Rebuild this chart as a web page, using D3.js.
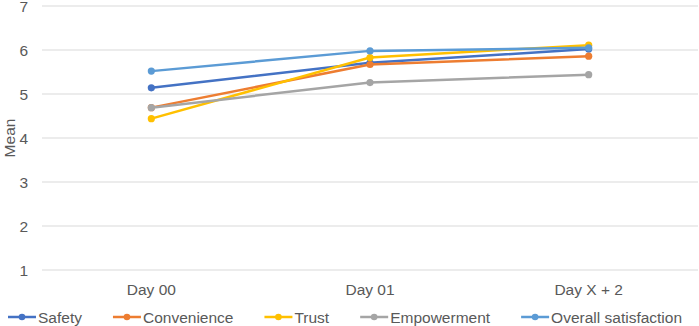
<!DOCTYPE html>
<html>
<head>
<meta charset="utf-8">
<script src="https://cdn.jsdelivr.net/npm/d3@7"></script>
<style>
  body { margin: 0; background: #fff; }
  text { font-family: "Liberation Sans", Arial, sans-serif; fill: #595959; }
</style>
</head>
<body>
<svg id="chart" width="699" height="326"></svg>
<script>
const days = ["Day 00", "Day 01", "Day X + 2"];
const yTicks = [1, 2, 3, 4, 5, 6, 7];

const safety = [5.14, 5.71, 6.02];
const convenience = [4.69, 5.67, 5.86];
const trust = [4.44, 5.83, 6.11];
const empowerment = [4.69, 5.26, 5.44];
const overall = [5.52, 5.98, 6.05];

const seriesNames = ["Safety", "Convenience", "Trust", "Empowerment", "Overall satisfaction"];
const seriesValues = [safety, convenience, trust, empowerment, overall];
const seriesColors = ["#4472C4", "#ED7D31", "#FFC000", "#A5A5A5", "#5B9BD5"];

const series = seriesNames.map((name, i) => ({
  name,
  color: seriesColors[i],
  values: seriesValues[i]
}));

const svg = d3.select("#chart");
const fontSize = 15.5;

const x = d3.scaleBand().domain(days).range([42, 698]);
const y = d3.scaleLinear().domain([1, 7]).range([270, 6]);

// gridlines
svg.append("g")
  .selectAll("line")
  .data(yTicks)
  .join("line")
  .attr("x1", x.range()[0])
  .attr("x2", x.range()[1])
  .attr("y1", d => y(d))
  .attr("y2", d => y(d))
  .attr("stroke", "#D9D9D9")
  .attr("stroke-width", 1);

// y tick labels
svg.append("g")
  .selectAll("text")
  .data(yTicks)
  .join("text")
  .attr("x", 28)
  .attr("y", d => y(d) + 5.5)
  .attr("text-anchor", "end")
  .style("font-size", fontSize + "px")
  .text(d => d);

// y axis title
svg.append("text")
  .attr("transform", `translate(15,${(y(1) + y(7)) / 2}) rotate(-90)`)
  .attr("text-anchor", "middle")
  .style("font-size", fontSize + "px")
  .text("Mean");

// x tick labels
svg.append("g")
  .selectAll("text")
  .data(days)
  .join("text")
  .attr("x", d => x(d) + x.bandwidth() / 2)
  .attr("y", 294.5)
  .attr("text-anchor", "middle")
  .style("font-size", fontSize + "px")
  .text(d => d);

const cx = (d, i) => x(days[i]) + x.bandwidth() / 2;
const line = d3.line().x(cx).y(d => y(d));

// series
const groups = svg.append("g")
  .selectAll("g")
  .data(series)
  .join("g");

groups.append("path")
  .attr("d", d => line(d.values))
  .attr("fill", "none")
  .attr("stroke", d => d.color)
  .attr("stroke-width", 2.5)
  .attr("stroke-linejoin", "round")
  .attr("stroke-linecap", "round");

groups.selectAll("circle")
  .data(d => d.values.map(v => ({ v, color: d.color })))
  .join("circle")
  .attr("cx", (d, i) => cx(d.v, i))
  .attr("cy", d => y(d.v))
  .attr("r", 3.6)
  .attr("fill", d => d.color);

// legend
const legend = svg.append("g");
let cursor = 8;
series.forEach(s => {
  const item = legend.append("g").attr("transform", `translate(${cursor},0)`);
  item.append("line")
    .attr("x1", 0).attr("x2", 28)
    .attr("y1", 317).attr("y2", 317)
    .attr("stroke", s.color)
    .attr("stroke-width", 2.5);
  item.append("circle")
    .attr("cx", 14).attr("cy", 317).attr("r", 3.3)
    .attr("fill", s.color);
  const label = item.append("text")
    .attr("x", 30)
    .attr("y", 322.5)
    .style("font-size", fontSize + "px")
    .text(s.name);
  cursor += 30 + label.node().getComputedTextLength() + 31;
});
</script>
</body>
</html>
